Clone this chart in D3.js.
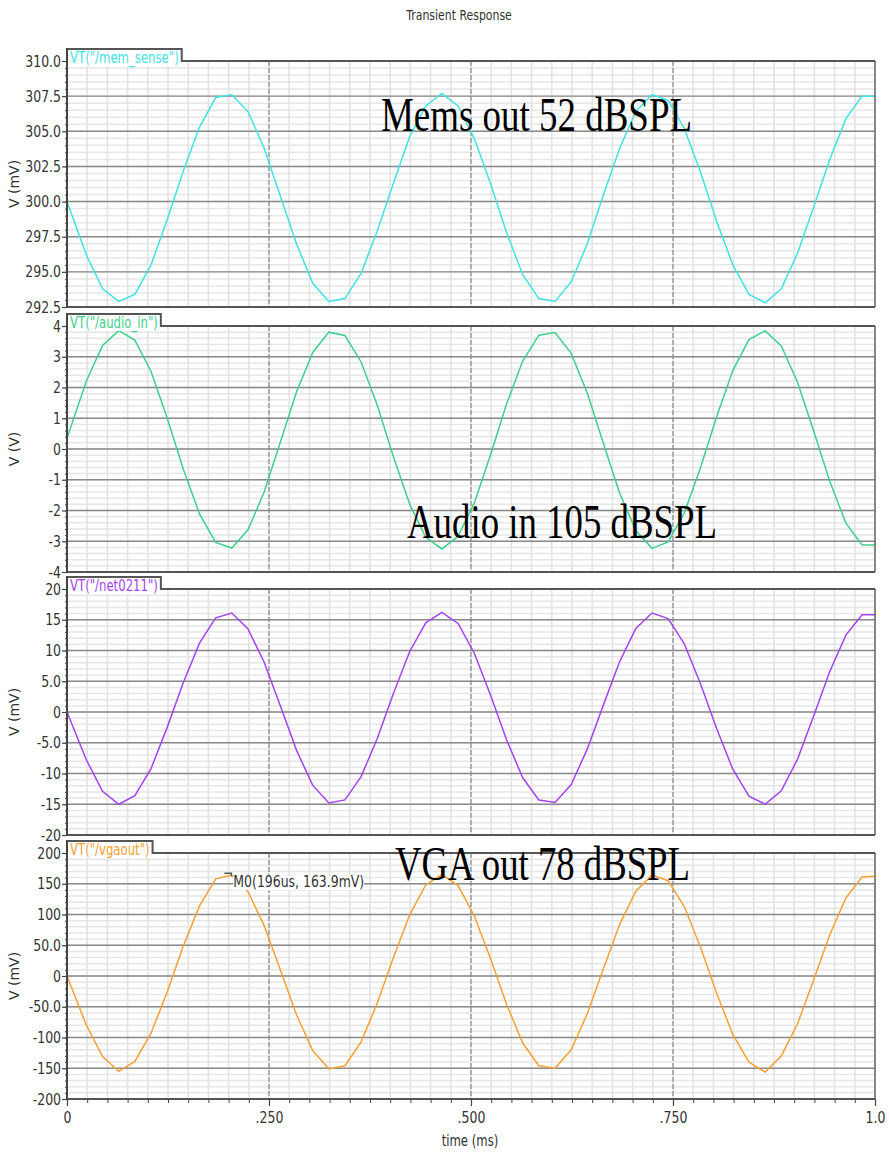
<!DOCTYPE html>
<html>
<head>
<meta charset="utf-8">
<script src="https://cdn.jsdelivr.net/npm/d3@7"></script>
<style>
  body { margin: 0; background: #fff; }
  svg { display: block; }
</style>
</head>
<body>
<div id="chart"></div>
<script>
// time axis (ms), simulator sample points
var time = [0, 0.024, 0.044, 0.064, 0.084, 0.104, 0.124, 0.144, 0.164, 0.184,
  0.204, 0.224, 0.244, 0.264, 0.284, 0.304, 0.324, 0.344, 0.364, 0.384,
  0.404, 0.424, 0.444, 0.464, 0.484, 0.504, 0.524, 0.544, 0.564, 0.584,
  0.604, 0.624, 0.644, 0.664, 0.684, 0.704, 0.724, 0.744, 0.764, 0.784,
  0.804, 0.824, 0.844, 0.864, 0.884, 0.904, 0.924, 0.944, 0.964, 0.984, 1.0];

// VT("/mem_sense") in mV
var memSense = [300.0, 296.2, 293.8, 292.9, 293.4, 295.5, 298.7, 302.2, 305.3, 307.4,
  307.6, 306.4, 303.8, 300.4, 297.0, 294.2, 292.9, 293.1, 294.9, 297.9,
  301.3, 304.6, 306.8, 307.7, 306.8, 304.5, 301.3, 297.8, 294.8, 293.1,
  292.9, 294.3, 297.0, 300.5, 303.8, 306.4, 307.6, 307.2, 305.2, 302.1,
  298.6, 295.5, 293.4, 292.8, 293.8, 296.3, 299.6, 303.0, 305.9, 307.5, 307.5];

// VT("/audio_in") in V
var audioIn = [0.35, 2.21, 3.37, 3.85, 3.54, 2.52, 1.01, -0.66, -2.11, -3.04,
  -3.22, -2.63, -1.40, 0.22, 1.85, 3.13, 3.80, 3.69, 2.83, 1.42,
  -0.25, -1.79, -2.87, -3.25, -2.84, -1.76, -0.20, 1.46, 2.86, 3.70,
  3.79, 3.11, 1.81, 0.17, -1.44, -2.65, -3.23, -3.02, -2.08, -0.61,
  1.05, 2.55, 3.56, 3.84, 3.35, 2.18, 0.59, -1.05, -2.41, -3.12, -3.12];

// VT("/net0211") in mV
var net0211 = [0.0, -7.8, -12.9, -15.0, -13.6, -9.2, -2.5, 4.8, 11.2, 15.3,
  16.1, 13.5, 8.1, 1.0, -6.2, -11.9, -14.8, -14.3, -10.5, -4.3,
  3.0, 9.8, 14.5, 16.2, 14.4, 9.6, 2.8, -4.5, -10.7, -14.3,
  -14.7, -11.8, -6.0, 1.2, 8.2, 13.6, 16.1, 15.2, 11.1, 4.6,
  -2.7, -9.3, -13.7, -15.0, -12.8, -7.7, -0.7, 6.6, 12.5, 15.8, 15.8];

// VT("/vgaout") in mV
var vgaOut = [0, -80, -131, -155, -139, -93, -26, 49, 114, 158,
  164, 137, 82, 10, -63, -121, -151, -146, -107, -44,
  30, 99, 148, 165, 147, 98, 29, -46, -109, -146,
  -150, -120, -61, 12, 84, 138, 164, 155, 113, 47,
  -28, -95, -140, -156, -130, -78, -7, 67, 127, 161, 162];

var ticksMem = [310, 307.5, 305, 302.5, 300, 297.5, 295, 292.5];
var labelsMem = ["310.0", "307.5", "305.0", "302.5", "300.0", "297.5", "295.0", "292.5"];
var ticksAudio = [4, 3, 2, 1, 0, -1, -2, -3, -4];
var labelsAudio = ["4", "3", "2", "1", "0", "-1", "-2", "-3", "-4"];
var ticksNet = [20, 15, 10, 5, 0, -5, -10, -15, -20];
var labelsNet = ["20", "15", "10", "5.0", "0", "-5.0", "-10", "-15", "-20"];
var ticksVga = [200, 150, 100, 50, 0, -50, -100, -150, -200];
var labelsVga = ["200", "150", "100", "50.0", "0", "-50.0", "-100", "-150", "-200"];

var timeTicks = [0, 0.25, 0.5, 0.75, 1.0];
var timeLabels = ["0", ".250", ".500", ".750", "1.0"];

var marker = { t: 0.196, v: 163.9, text: "M0(196us, 163.9mV)" };

var width = 890, height = 1153;
var left = 67, right = 875, panelH = 246;
var squeeze = 0.78;  // the waveform viewer font is narrow

var panels = [
  { name: 'VT("/mem_sense")', color: "#3fe3e3", values: memSense, domain: [292.5, 310], step: 0.5,
    ticks: ticksMem, labels: labelsMem, unit: "V (mV)", top: 61 },
  { name: 'VT("/audio_in")', color: "#3dd08c", values: audioIn, domain: [-4, 4], step: 0.2,
    ticks: ticksAudio, labels: labelsAudio, unit: "V (V)", top: 326 },
  { name: 'VT("/net0211")', color: "#a244f0", values: net0211, domain: [-20, 20], step: 1,
    ticks: ticksNet, labels: labelsNet, unit: "V (mV)", top: 589 },
  { name: 'VT("/vgaout")', color: "#f9a034", values: vgaOut, domain: [-200, 200], step: 10,
    ticks: ticksVga, labels: labelsVga, unit: "V (mV)", top: 853 }
];

var notes = [
  { text: "Mems out 52 dBSPL", x: 381, y: 131, len: 311 },
  { text: "Audio in 105 dBSPL", x: 407, y: 538, len: 310 },
  { text: "VGA out 78 dBSPL", x: 395, y: 880, len: 295 }
];

var svg = d3.select("#chart").append("svg")
  .attr("width", width).attr("height", height);

svg.append("rect").attr("width", width).attr("height", height).attr("fill", "#fff");

var x = d3.scaleLinear().domain([0, 1]).range([left, right]);

function narrowText(g, str, tx, ty, size, anchor) {
  return g.append("text")
    .attr("transform", "translate(" + tx + "," + ty + ") scale(" + squeeze + ",1)")
    .attr("text-anchor", anchor || "start")
    .attr("font-family", "DejaVu Sans, sans-serif")
    .attr("font-size", size)
    .attr("fill", "#333")
    .text(str);
}

narrowText(svg, "Transient Response", 459, 20, 14, "middle");

var minorT = d3.range(0, 41).map(function (i) { return i * 0.025; });

panels.forEach(function (p, pi) {
  var top = p.top, bottom = top + panelH;
  var y = d3.scaleLinear().domain(p.domain).range([bottom, top]);
  var g = svg.append("g");

  var n = Math.round((p.domain[1] - p.domain[0]) / p.step);
  var minorV = d3.range(0, n + 1).map(function (i) { return p.domain[0] + i * p.step; });

  // light grid
  g.selectAll(".hmin").data(minorV).join("line")
    .attr("x1", left).attr("x2", right)
    .attr("y1", function (d) { return y(d); }).attr("y2", function (d) { return y(d); })
    .attr("stroke", "#e6e6e6").attr("stroke-width", 1.5);
  g.selectAll(".vmin").data(minorT).join("line")
    .attr("x1", function (d) { return x(d); }).attr("x2", function (d) { return x(d); })
    .attr("y1", top).attr("y2", bottom)
    .attr("stroke", "#e2e2e2").attr("stroke-width", 1.5);

  // major grid
  g.selectAll(".hmaj").data(p.ticks).join("line")
    .attr("x1", left).attr("x2", right)
    .attr("y1", function (d) { return y(d); }).attr("y2", function (d) { return y(d); })
    .attr("stroke", "#8a8a8a").attr("stroke-width", 1.4);
  g.selectAll(".vmaj").data([0.25, 0.5, 0.75]).join("line")
    .attr("x1", function (d) { return x(d); }).attr("x2", function (d) { return x(d); })
    .attr("y1", top).attr("y2", bottom)
    .attr("stroke", "#8a8a8a").attr("stroke-width", 1.2)
    .attr("stroke-dasharray", "5,2");

  // waveform
  var line = d3.line()
    .x(function (d, i) { return x(time[i]); })
    .y(function (d) { return y(d); });
  g.append("path").datum(p.values)
    .attr("d", line)
    .attr("fill", "none")
    .attr("stroke", p.color)
    .attr("stroke-width", 1.5);

  // y axis ticks
  var minorAxis = d3.axisLeft(y).tickValues(minorV).tickSize(2).tickFormat("");
  g.append("g").attr("transform", "translate(" + left + ",0)").call(minorAxis)
    .call(function (a) { a.select(".domain").remove(); })
    .selectAll("line").attr("stroke", "#444");
  var majorAxis = d3.axisLeft(y).tickValues(p.ticks).tickSize(5)
    .tickFormat(function (d, i) { return p.labels[i]; });
  var ax = g.append("g").attr("transform", "translate(" + left + ",0)").call(majorAxis);
  ax.select(".domain").remove();
  ax.selectAll("line").attr("stroke", "#444").attr("stroke-width", 1.2);
  ax.selectAll("text")
    .attr("x", -6 / squeeze)
    .attr("transform", "scale(" + squeeze + ",1)")
    .attr("font-family", "DejaVu Sans, sans-serif")
    .attr("font-size", 16)
    .attr("fill", "#333");

  // frame
  g.append("line").attr("x1", left).attr("x2", right).attr("y1", bottom).attr("y2", bottom)
    .attr("stroke", "#555").attr("stroke-width", 2);
  g.append("line").attr("x1", right).attr("x2", right).attr("y1", top).attr("y2", bottom)
    .attr("stroke", "#666").attr("stroke-width", 1.5);

  // tab with the signal name
  var tab = g.append("g");
  var bg = tab.append("rect").attr("fill", "#fff");
  var label = narrowText(tab, p.name, left + 3, top + 2, 15, "start").attr("fill", p.color);
  var tabR = left + 3 + label.node().getComputedTextLength() * squeeze + 3;
  bg.attr("x", left).attr("y", top - 12).attr("width", tabR - left).attr("height", 17);
  tab.append("path")
    .attr("d", "M" + left + "," + (top - 12) + "H" + tabR + "V" + top + "H" + right)
    .attr("fill", "none").attr("stroke", "#555").attr("stroke-width", 2);

  g.append("line").attr("x1", left).attr("x2", left).attr("y1", top - 13).attr("y2", bottom + 1)
    .attr("stroke", "#444").attr("stroke-width", 2);

  // unit label
  g.append("text")
    .attr("transform", "translate(19," + (top + panelH / 2) + ") rotate(-90)")
    .attr("text-anchor", "middle")
    .attr("font-family", "DejaVu Sans, sans-serif")
    .attr("font-size", 14)
    .attr("fill", "#333")
    .text(p.unit);

  p.y = y;
});

// time axis under the last panel
var last = panels[panels.length - 1];
var axisY = last.top + panelH;
var xg = svg.append("g").attr("transform", "translate(0," + axisY + ")");
xg.call(d3.axisBottom(x).tickValues(minorT).tickSize(4).tickFormat(""))
  .call(function (a) { a.select(".domain").remove(); })
  .selectAll("line").attr("stroke", "#444");
var xm = svg.append("g").attr("transform", "translate(0," + axisY + ")")
  .call(d3.axisBottom(x).tickValues(timeTicks).tickSize(7)
    .tickFormat(function (d, i) { return timeLabels[i]; }));
xm.select(".domain").remove();
xm.selectAll("line").attr("stroke", "#444").attr("stroke-width", 1.2);
xm.selectAll("text")
  .attr("y", 13)
  .attr("transform", "scale(" + squeeze + ",1)")
  .attr("font-family", "DejaVu Sans, sans-serif")
  .attr("font-size", 16)
  .attr("fill", "#333");

narrowText(svg, "time (ms)", 470, 1146, 15, "middle");

// marker on the VGA output
var mx = x(marker.t), my = last.y(marker.v);
svg.append("path")
  .attr("d", "M" + (mx - 1) + "," + (my - 2) + "H" + (mx + 6) + "V" + (my + 1))
  .attr("fill", "none").attr("stroke", "#555").attr("stroke-width", 1.5);
var mbg = svg.append("rect").attr("fill", "#fff");
var mt = narrowText(svg, marker.text, mx + 8, my + 12, 16, "start");
var mw = mt.node().getComputedTextLength() * squeeze;
mbg.attr("x", mx + 8).attr("y", my + 1).attr("width", mw).attr("height", 14);

// annotations
svg.selectAll(".note").data(notes).join("text")
  .attr("x", function (d) { return d.x; })
  .attr("y", function (d) { return d.y; })
  .attr("textLength", function (d) { return d.len; })
  .attr("lengthAdjust", "spacingAndGlyphs")
  .attr("font-family", "Liberation Serif, Times New Roman, serif")
  .attr("font-size", 49)
  .attr("fill", "#000")
  .text(function (d) { return d.text; });
</script>
</body>
</html>
